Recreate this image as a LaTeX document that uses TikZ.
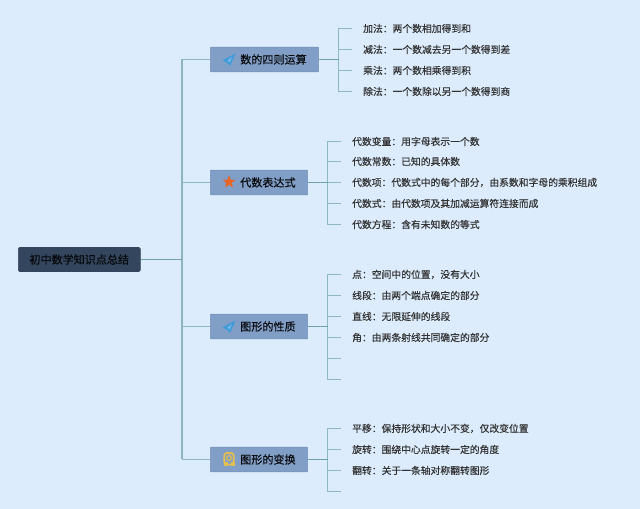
\documentclass[tikz,border=0pt]{standalone}
\usepackage{fontspec}
\setmainfont{Noto Sans CJK SC}[FakeBold=0.25]
\usetikzlibrary{shapes.geometric}
\usetikzlibrary{calc}
\definecolor{bgcol}{HTML}{DCECFC}
\definecolor{linkcol}{HTML}{6FA3A8}
\definecolor{tickcol}{HTML}{8DB9BE}
\definecolor{trunkcol}{HTML}{8CB6BC}
\definecolor{branchcol}{HTML}{819EC6}
\definecolor{branchline}{HTML}{7192B4}
\definecolor{rootcol}{HTML}{34465E}
\definecolor{planecol}{HTML}{3F9BDA}
\definecolor{starcol}{HTML}{E8652A}
\definecolor{badgecol}{HTML}{E3BE50}

\begin{document}
\begin{tikzpicture}[x=0.75pt, y=-0.75pt]

\pgfmathsetmacro{\XT}{182}
\pgfmathsetmacro{\XJA}{338.5}
\pgfmathsetmacro{\XJB}{327.5}
\pgfmathsetmacro{\XLA}{352}
\pgfmathsetmacro{\XLB}{341}

\tikzset{
  rootnode/.style={fill=rootcol, draw=rootcol, rounded corners=1pt, anchor=west, minimum height=18pt, inner xsep=8.4pt, inner ysep=0pt, text=black!90!rootcol, font=\fontsize{8.3}{10}\selectfont},
  branch/.style={fill=branchcol, draw=branchline, rounded corners=0.6pt, anchor=west, minimum height=18.5pt, inner xsep=9pt, inner ysep=0pt, text=black!85!rootcol, font=\fontsize{8.3}{10}\selectfont},
  leaf/.style={anchor=west, inner xsep=8.2pt, inner ysep=0pt, text=black!80, font=\fontsize{7.35}{9}\selectfont},
  link/.style={draw=linkcol, line width=0.8pt},
  tick/.style={draw=tickcol, line width=0.8pt},
  trunk/.style={draw=trunkcol, line width=1.4pt},
  planeicon/.pic={
    \fill [planecol] (6.5,-6) -- (-6.5,0.8) -- (-2.4,3) -- (1,6.5) -- cycle;
    \fill [planecol!70!white] (3,-2.6) -- (-1.6,1.2) -- (0.8,2.8) -- cycle;
  },
  badgeicon/.pic={
    \draw [badgecol, line width=1.4pt, rounded corners=2.2pt] (-4.8,-6.5) rectangle (4.8,5);
    \draw [badgecol, line width=0.9pt] (0,-1.5) circle (2.4);
    \fill [badgecol] (-5.5,3) rectangle (-1.5,7);
    \fill [badgecol] (1.5,3) rectangle (5.5,7);
  },
}

\useasboundingbox (0, 0) rectangle (640, 509);
\fill [bgcol] (0, 0) rectangle (640, 509);

% main nodes
\node [rootnode] (R) at (18, 259.5) {初中数学知识点总结};

\node [branch] (B1) at (210, 59.5) {\hspace*{13.5pt}数的四则运算};
\node [branch] (B2) at (210, 182.5) {\hspace*{13.5pt}代数表达式};
\node [branch] (B3) at (210, 326.5) {\hspace*{13.5pt}图形的性质};
\node [branch] (B4) at (210, 459.5) {\hspace*{13.5pt}图形的变换};

\pic at ($(B1.west) + (19, 0)$) {planeicon};
\node [star, star points=5, star point ratio=2.3, fill=starcol, inner sep=0pt, minimum size=10pt] (S2) at ($(B2.west) + (19, -0.5)$) {};
\pic at ($(B3.west) + (19, 0)$) {planeicon};
\pic at ($(B4.west) + (19, 0)$) {badgeicon};

% joints
\coordinate (T) at (\XT, 259.5);
\coordinate (J1) at (\XJA, 59.5);
\coordinate (J2) at (\XJB, 182.5);
\coordinate (J3) at (\XJB, 326.5);
\coordinate (J4) at (\XJB, 459.5);

% leaves
\node [leaf] (A1) at (\XLA, 28.5) {加法：两个数相加得到和};
\node [leaf] (A2) at (\XLA, 49.5) {减法：一个数减去另一个数得到差};
\node [leaf] (A3) at (\XLA, 70.5) {乘法：两个数相乘得到积};
\node [leaf] (A4) at (\XLA, 91.5) {除法：一个数除以另一个数得到商};

\node [leaf] (C1) at (\XLB, 141.5) {代数变量：用字母表示一个数};
\node [leaf] (C2) at (\XLB, 161.5) {代数常数：已知的具体数};
\node [leaf] (C3) at (\XLB, 182.5) {代数项：代数式中的每个部分，由系数和字母的乘积组成};
\node [leaf] (C4) at (\XLB, 203.5) {代数式：由代数项及其加减运算符连接而成};
\node [leaf] (C5) at (\XLB, 224.5) {代数方程：含有未知数的等式};

\node [leaf] (D1) at (\XLB, 274.5) {点：空间中的位置，没有大小};
\node [leaf] (D2) at (\XLB, 295.5) {线段：由两个端点确定的部分};
\node [leaf] (D3) at (\XLB, 316.5) {直线：无限延伸的线段};
\node [leaf] (D4) at (\XLB, 337.5) {角：由两条射线共同确定的部分};
\coordinate (D5) at (\XLB, 358.5);
\coordinate (D6) at (\XLB, 379.5);

\node [leaf] (E1) at (\XLB, 428.5) {平移：保持形状和大小不变，仅改变位置};
\node [leaf] (E2) at (\XLB, 449.5) {旋转：围绕中心点旋转一定的角度};
\node [leaf] (E3) at (\XLB, 470.5) {翻转：关于一条轴对称翻转图形};
\coordinate (E4) at (\XLB, 491.5);

% connectors
\draw [trunk] (T |- B1.west) -- (T |- B4.west);
\draw [link] (R.east) -- (T);
\draw [tick] (T |- B1.west) -- (B1.west);
\draw [tick] (T |- B2.west) -- (B2.west);
\draw [tick] (T |- B3.west) -- (B3.west);
\draw [tick] (T |- B4.west) -- (B4.west);

\draw [tick] (A1.west) -- (J1 |- A1.west) -- (J1 |- A4.west) -- (A4.west);
\draw [tick] (J1 |- A2.west) -- (A2.west);
\draw [tick] (J1 |- A3.west) -- (A3.west);

\draw [tick] (C1.west) -- (J2 |- C1.west) -- (J2 |- C5.west) -- (C5.west);
\draw [tick] (J2 |- C2.west) -- (C2.west);
\draw [tick] (J2 |- C3.west) -- (C3.west);
\draw [tick] (J2 |- C4.west) -- (C4.west);

\draw [tick] (D1.west) -- (J3 |- D1.west) -- (J3 |- D6) -- (D6);
\draw [tick] (J3 |- D2.west) -- (D2.west);
\draw [tick] (J3 |- D3.west) -- (D3.west);
\draw [tick] (J3 |- D4.west) -- (D4.west);
\draw [tick] (J3 |- D5) -- (D5);

\draw [tick] (E1.west) -- (J4 |- E1.west) -- (J4 |- E4) -- (E4);
\draw [tick] (J4 |- E2.west) -- (E2.west);
\draw [tick] (J4 |- E3.west) -- (E3.west);

\draw [link] (B1.east) -- (J1);
\draw [link] (B2.east) -- (J2);
\draw [link] (B3.east) -- (J3);
\draw [link] (B4.east) -- (J4);

\end{tikzpicture}
\end{document}
